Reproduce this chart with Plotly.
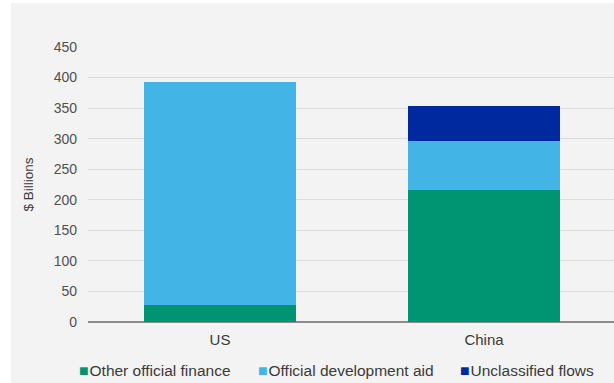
import plotly.graph_objects as go

categories = ["US", "China"]
other_official_finance = [28, 216]
official_development_aid = [365, 80]
unclassified_flows = [0, 58]
y_ticks = [0, 50, 100, 150, 200, 250, 300, 350, 400, 450]

W, H = 614, 383
ml, mr, mt, mb = 88, 0, 47, 61
pw, ph = W - ml - mr, H - mt - mb
cat_px = 264  # pixel spacing between category centres

series = [
    ("Other official finance", other_official_finance, "#009572"),
    ("Official development aid", official_development_aid, "#42B4E6"),
    ("Unclassified flows", unclassified_flows, "#0029A0"),
]

fig = go.Figure()
for name, vals, col in series:
    fig.add_trace(go.Bar(
        x=[0, 1], y=vals, name=name, marker=dict(color=col, line=dict(width=0)),
        width=0.575, showlegend=False,
    ))

# grey panel background
fig.add_shape(type="rect", xref="paper", yref="paper", layer="below",
              x0=(11 - ml) / pw, x1=1.02, y0=-mb / ph - 0.02,
              y1=(H - mb - 3) / ph, fillcolor="#F3F3F3", line=dict(width=0))

# legend (drawn as text entries with coloured square glyphs)
legend_x_px = [77, 256, 458]
for (name, _, col), xpx in zip(series, legend_x_px):
    fig.add_annotation(
        xref="paper", yref="paper", x=(xpx - ml) / pw, y=-(370 - (H - mb)) / ph,
        xanchor="left", yanchor="middle", showarrow=False,
        text=(f"<span style='color:{col};font-size:16px'>■</span>"
              f"<span style='font-size:3px'> </span>{name}"),
        font=dict(size=15.5, color="#3A3A3A"),
    )

fig.update_layout(
    width=W, height=H,
    margin=dict(l=ml, r=mr, t=mt, b=mb, autoexpand=False),
    barmode="stack",
    paper_bgcolor="white",
    plot_bgcolor="#F3F3F3",
    font=dict(family="Liberation Sans, Arial, sans-serif", size=14, color="#595959"),
    showlegend=False,
    xaxis=dict(
        tickmode="array", tickvals=[0, 1], ticktext=categories,
        range=[-0.5, pw / cat_px - 0.5], showgrid=False, showline=False,
        zeroline=False, ticks="", tickfont=dict(size=15, color="#3A3A3A"),
        ticklabelstandoff=7,
    ),
    yaxis=dict(
        range=[0, 450], tickvals=y_ticks, showgrid=True, gridcolor="#DCDCDC",
        gridwidth=1, zeroline=True, zerolinecolor="#8C8C8C", zerolinewidth=1.5,
        ticks="", ticklen=0, tickfont=dict(size=14, color="#505050"),
        ticklabelstandoff=10,
        title=dict(text="$ Billions", font=dict(size=13.5, color="#3A3A3A"), standoff=16),
    ),
)

fig.write_html("out.html", config={"displayModeBar": False},
               post_script="document.body.style.margin='0';document.body.style.overflow='hidden';")
